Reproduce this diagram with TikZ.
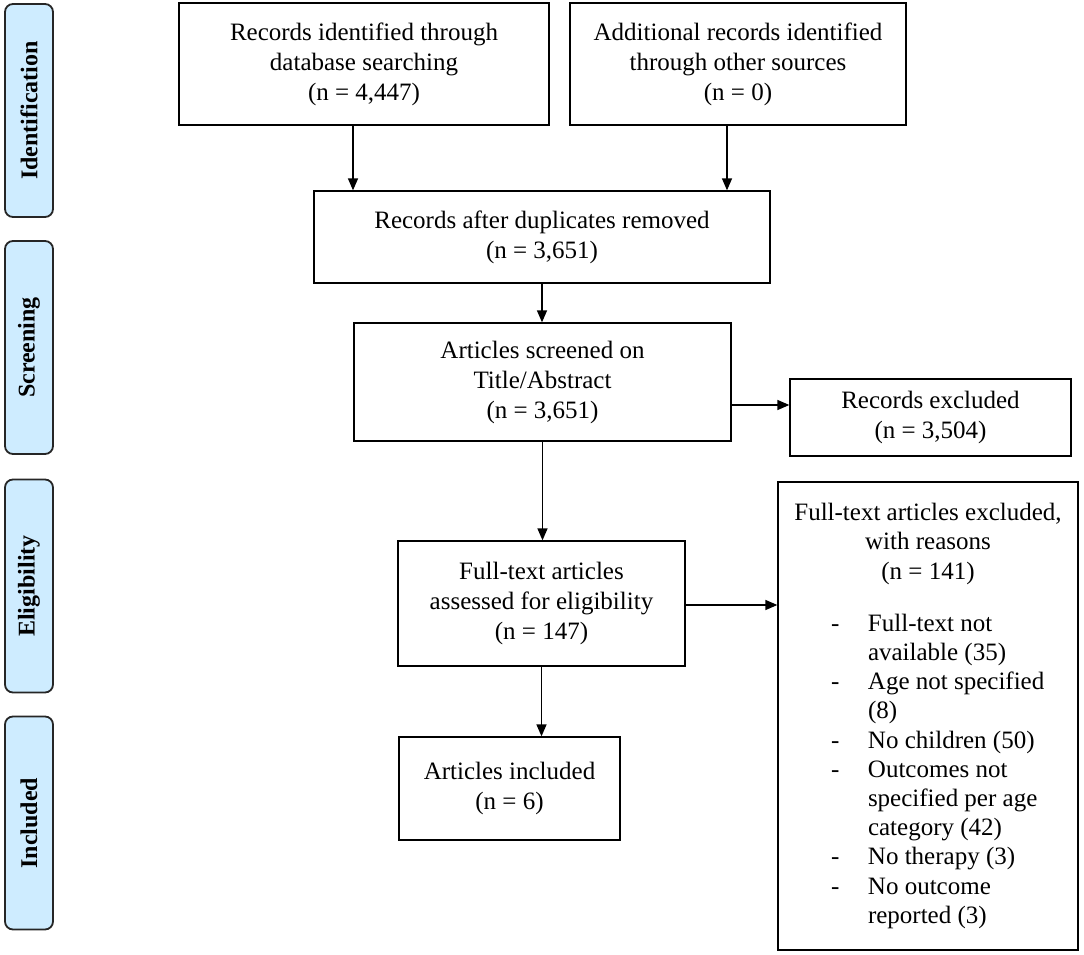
\documentclass[tikz,border=0pt]{standalone}
\usepackage{fontspec}
\setmainfont{Liberation Serif}
\usetikzlibrary{arrows.meta}
\definecolor{stagefill}{RGB}{206,236,255}
\begin{document}
\begin{tikzpicture}[x=1pt,y=-1pt,
  box/.style={draw=black, line width=1.3pt, fill=white, align=center, inner sep=0pt,
     font=\fontsize{25}{30}\selectfont},
  stage/.style={draw=black!85, line width=1.8pt, fill=stagefill, rounded corners=8pt,
     minimum width=48pt, minimum height=213pt, inner sep=0pt},
  stagetext/.style={rotate=90, font=\fontsize{24}{30}\selectfont\bfseries},
  arr/.style={line width=1.4pt, -{Triangle[length=12pt,width=10pt]}}]
\useasboundingbox (0,0) rectangle (1084,955);
% stage labels
\node[stage] (s1) at (29,110.5) {};
\node[stagetext] (t1) at (s1.center) {Identification};
\node[stage] (s2) at (29,347.5) {};
\node[stagetext] (t2) at (s2.center) {Screening};
\node[stage] (s3) at (29,586) {};
\node[stagetext] (t3) at (s3.center) {Eligibility};
\node[stage] (s4) at (29,823) {};
\node[stagetext] (t4) at (s4.center) {Included};
% boxes
\node[box, minimum width=370pt, minimum height=122pt] (b1) at (364,64)
  {Records identified through\\database searching\\(n = 4,447)};
\node[box, minimum width=336pt, minimum height=122pt] (b2) at (738,64)
  {Additional records identified\\through other sources\\(n = 0)};
\node[box, minimum width=456pt, minimum height=92pt] (b3) at (542,237)
  {Records after duplicates removed\\(n = 3,651)};
\node[box, minimum width=377pt, minimum height=118pt] (b4) at (542.5,382)
  {Articles screened on\\Title/Abstract\\(n = 3,651)};
\node[box, minimum width=281pt, minimum height=77pt] (b5) at (930.5,417.5)
  {Records excluded\\(n = 3,504)};
\node[box, minimum width=287pt, minimum height=125pt] (b6) at (541.5,603.5)
  {Full-text articles\\assessed for eligibility\\(n = 147)};
\node[box, minimum width=221pt, minimum height=103pt] (b8) at (509.5,788.5)
  {Articles included\\(n = 6)};
\node[box, minimum width=300pt, minimum height=468pt] (b7) at (928,716)
  {\begin{minipage}{284pt}\fontsize{25}{29.2}\selectfont
   \centering Full-text articles excluded,\\ with reasons\\ (n = 141)\par
   \vspace{23pt}\raggedright
   \hspace*{45pt}\makebox[37pt][l]{-}Full-text not\\
   \hspace*{82pt}available (35)\\
   \hspace*{45pt}\makebox[37pt][l]{-}Age not specified\\
   \hspace*{82pt}(8)\\
   \hspace*{45pt}\makebox[37pt][l]{-}No children (50)\\
   \hspace*{45pt}\makebox[37pt][l]{-}Outcomes not\\
   \hspace*{82pt}specified per age\\
   \hspace*{82pt}category (42)\\
   \hspace*{45pt}\makebox[37pt][l]{-}No therapy (3)\\
   \hspace*{45pt}\makebox[37pt][l]{-}No outcome\\
   \hspace*{82pt}reported (3)\par
   \end{minipage}};
% connectors
\draw[arr] ([xshift=-11pt]b1.south) -- ([xshift=-11pt]b1.south |- b3.north);
\draw[arr] ([xshift=-11pt]b2.south) -- ([xshift=-11pt]b2.south |- b3.north);
\draw[arr] (b3.south) -- (b3.south |- b4.north);
\draw[arr] ([yshift=-23pt]b4.east) -- ([yshift=-23pt]b4.east -| b5.west);
\draw[arr] (b4.south) -- (b4.south |- b6.north);
\draw[arr] ([yshift=-1.5pt]b6.east) -- ([yshift=-1.5pt]b6.east -| b7.west);
\draw[arr] (b6.south) -- (b6.south |- b8.north);
\end{tikzpicture}
\end{document}
